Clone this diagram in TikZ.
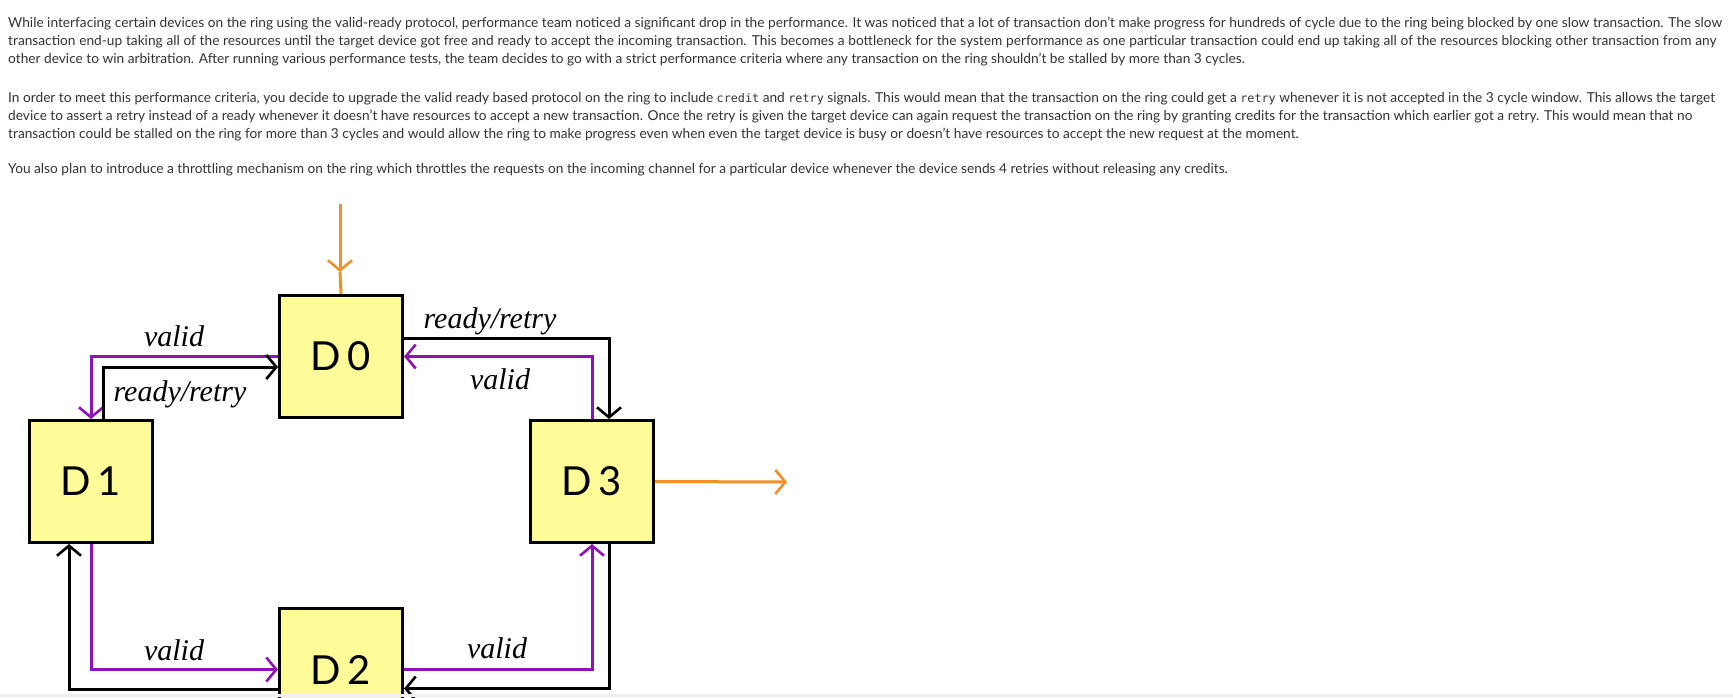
\documentclass[tikz,border=0pt]{standalone}
\usepackage{fontspec}
\setmainfont{Lato}
\newfontfamily\monof{DejaVu Sans Mono}[Scale=0.86]
\newfontfamily\hand{Liberation Serif}
\usetikzlibrary{arrows.meta,calc}
\definecolor{txt}{HTML}{333333}
\definecolor{boxy}{HTML}{FFFB99}
\definecolor{purp}{HTML}{8E12B8}
\definecolor{orng}{HTML}{F0902A}
\newcommand{\cd}[1]{{\monof #1}}
\tikzset{
  para/.style={anchor=base west, inner sep=0pt, text=txt, font=\fontsize{13.7}{16}\selectfont},
  dev/.style={draw=black, line width=3pt, fill=boxy, minimum width=123pt, minimum height=122pt, inner sep=0pt, font=\fontsize{40}{40}\selectfont},
  lab/.style={inner sep=0pt, font=\hand\itshape\fontsize{30}{30}\selectfont},
  tip/.style={-{Straight Barb[length=10pt,width=24pt,line width=2.6pt]}},
  sig/.style={line width=3pt, tip},
  vsig/.style={sig, draw=purp},
  rsig/.style={sig, draw=black},
  osig/.style={sig, draw=orng},
}
\begin{document}
\begin{tikzpicture}[x=1pt,y=-1pt]
\useasboundingbox (0,0) rectangle (1733,697);
\clip (0,0) rectangle (1733,697);
\fill[white] (0,0) rectangle (1733,697);
% text
\node[para] (p1a) at (8,27) {While interfacing certain devices on the ring using the valid-ready protocol, performance team noticed a significant drop in the performance. It was noticed that a lot of transaction don’t make progress for hundreds of cycle due to the ring being blocked by one slow transaction. The slow};
\node[para] (p1b) at (8,45) {\makebox[1708pt][s]{transaction end-up taking all of the resources until the target device got free and ready to accept the incoming transaction. This becomes a bottleneck for the system performance as one particular transaction could end up taking all of the resources blocking other transaction from any}};
\node[para] (p1c) at (8,63) {other device to win arbitration. After running various performance tests, the team decides to go with a strict performance criteria where any transaction on the ring shouldn’t be stalled by more than 3 cycles.};
\node[para] (p2a) at (8,102) {In order to meet this performance criteria, you decide to upgrade the valid ready based protocol on the ring to include \cd{credit} and \cd{retry} signals. This would mean that the transaction on the ring could get a \cd{retry} whenever it is not accepted in the 3 cycle window. This allows the target};
\node[para] (p2b) at (8,120) {device to assert a retry instead of a ready whenever it doesn’t have resources to accept a new transaction. Once the retry is given the target device can again request the transaction on the ring by granting credits for the transaction which earlier got a retry. This would mean that no};
\node[para] (p2c) at (8,138) {transaction could be stalled on the ring for more than 3 cycles and would allow the ring to make progress even when even the target device is busy or doesn’t have resources to accept the new request at the moment.};
\node[para] (p3a) at (8,173) {You also plan to introduce a throttling mechanism on the ring which throttles the requests on the incoming channel for a particular device whenever the device sends 4 retries without releasing any credits.};
% devices
\node[dev] (D0) at (341,356.5) {D\,0};
\node[dev] (D1) at (91,481.5) {D\,1};
\node[dev] (D3) at (592,481.5) {D\,3};
\node[dev] (D2) at (341,669.5) {D\,2};
% orange in/out
\coordinate (inTop) at (340,204);
\coordinate (inMid) at (340,272);
\coordinate (outEnd) at (787,482);
\draw[osig] (inTop) -- (inMid);
\draw[line width=3pt, orng] (inMid) -- (D0.north);
\draw[osig] (D3.east) -- (outEnd);
% D0 <-> D1
\draw[vsig] (D0.west) -| (D1.north);
\draw[rsig] ($(D1.north)+(12,0)$) |- ($(D0.west)+(0,10.5)$);
% D0 <-> D3
\draw[rsig] ($(D0.east)+(0,-18.5)$) -| ($(D3.north)+(17,0)$);
\draw[vsig] (D3.north) |- (D0.east);
% D1 <-> D2
\draw[vsig] (D1.south) |- (D2.west);
\draw[rsig] ($(D2.west)+(0,19.5)$) -| ($(D1.south)+(-22,0)$);
% D2 <-> D3
\draw[vsig] (D2.east) -| (D3.south);
\draw[rsig] ($(D3.south)+(17,0)$) |- ($(D2.east)+(0,19)$);
% labels
\node[lab] (l1) at (174,336) {valid};
\node[lab] (l2) at (180,394) {ready/retry};
\node[lab] (l3) at (490,321) {ready/retry};
\node[lab] (l4) at (500,379) {valid};
\node[lab] (l5) at (174,650) {valid};
\node[lab] (l6) at (497,648) {valid};
\node[lab] (l7) at (180,712) {ready/retry};
\node[lab] (l8) at (518,712) {ready/retry};
\fill[black!6] (0,694) rectangle (1733,697);
\end{tikzpicture}
\end{document}
